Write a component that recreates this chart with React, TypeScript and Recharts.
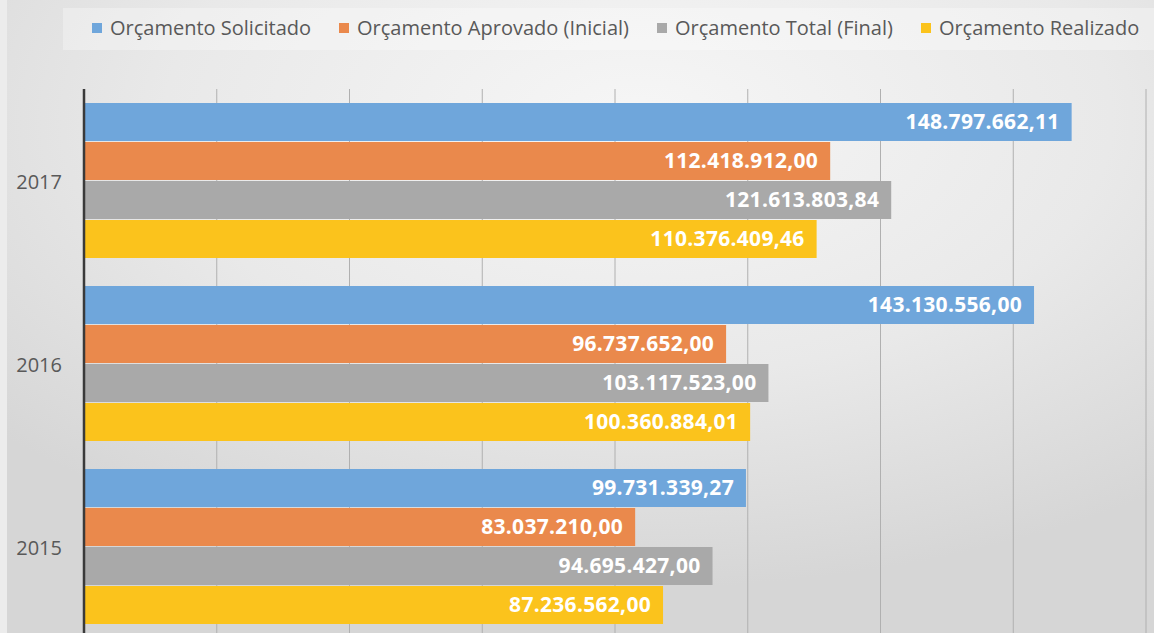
import { BarChart, Bar, XAxis, YAxis, CartesianGrid, LabelList } from 'recharts';

const years = ['2017', '2016', '2015'];
const solicitado = [148797662.11, 143130556.0, 99731339.27];
const aprovado = [112418912.0, 96737652.0, 83037210.0];
const total = [121613803.84, 103117523.0, 94695427.0];
const realizado = [110376409.46, 100360884.01, 87236562.0];
const xTicks = [0, 20000000, 40000000, 60000000, 80000000, 100000000, 120000000, 140000000, 160000000];

const series = [
  { key: 'solicitado', name: 'Orçamento Solicitado', color: '#6fa6db' },
  { key: 'aprovado', name: 'Orçamento Aprovado (Inicial)', color: '#ea894c' },
  { key: 'total', name: 'Orçamento Total (Final)', color: '#a9a9a9' },
  { key: 'realizado', name: 'Orçamento Realizado', color: '#fbc31c' },
];

const data = years.map((year, i) => ({
  year,
  solicitado: solicitado[i],
  aprovado: aprovado[i],
  total: total[i],
  realizado: realizado[i],
}));

// 1234567.8 -> 1.234.567,80
function formatBRL(v: number) {
  const [int, dec] = v.toFixed(2).split('.');
  return int.replace(/\B(?=(\d{3})+(?!\d))/g, '.') + ',' + dec;
}

const font = '"Open Sans", sans-serif';

export default function App() {
  return (
    <div
      style={{
        position: 'absolute',
        top: 0,
        left: 0,
        width: 1154,
        height: 633,
        overflow: 'hidden',
        background: '#ececec',
        fontFamily: font,
      }}
    >
      <div
        style={{
          position: 'absolute',
          left: 7,
          top: 0,
          width: 1147,
          height: 668,
          background:
            'radial-gradient(ellipse 75% 70% at 55% 18%, #f6f6f6 0%, #e9e9e9 55%, #d6d6d6 100%)',
        }}
      >
        <div
          style={{
            position: 'absolute',
            left: 56,
            top: 8,
            width: 1091,
            height: 42,
            background: 'rgba(255,255,255,0.3)',
          }}
        />
        <div
          style={{
            position: 'absolute',
            left: 85,
            top: 14,
            display: 'flex',
            alignItems: 'center',
            whiteSpace: 'nowrap',
            fontSize: 20,
            color: '#595959',
          }}
        >
          {series.map((s) => (
            <div key={s.key} style={{ display: 'flex', alignItems: 'center', marginRight: 28 }}>
              <span
                style={{ display: 'inline-block', width: 10, height: 10, background: s.color, marginRight: 8 }}
              />
              <span>{s.name}</span>
            </div>
          ))}
        </div>
        <BarChart
          width={1147}
          height={668}
          data={data}
          layout="vertical"
          margin={{ top: 89, right: 8, bottom: 0, left: 0 }}
          barCategoryGap={14}
          barGap={1}
        >
          <CartesianGrid horizontal={false} stroke="#b0b0b0" strokeWidth={1} />
          {/* x axis sits below the visible area; only its ticks drive the grid */}
          <XAxis
            type="number"
            domain={[0, 160000000]}
            ticks={xTicks}
            height={30}
            axisLine={false}
            tickLine={false}
            tick={() => <g />}
          />
          <YAxis
            type="category"
            dataKey="year"
            width={77}
            axisLine={{ stroke: '#3a3a3a', strokeWidth: 2.5 }}
            tickLine={false}
            tickMargin={16}
            tick={{ fill: '#595959', fontSize: 20, fontFamily: font, dy: 1 }}
          />
          {series.map((s) => (
            <Bar key={s.key} dataKey={s.key} name={s.name} fill={s.color} isAnimationActive={false}>
              <LabelList
                dataKey={s.key}
                position="insideRight"
                offset={12}
                formatter={(v: number) => formatBRL(v)}
                style={{ fill: '#ffffff', fontSize: 21, fontWeight: 700, fontFamily: font, letterSpacing: 0.3 }}
              />
            </Bar>
          ))}
        </BarChart>
      </div>
    </div>
  );
}
